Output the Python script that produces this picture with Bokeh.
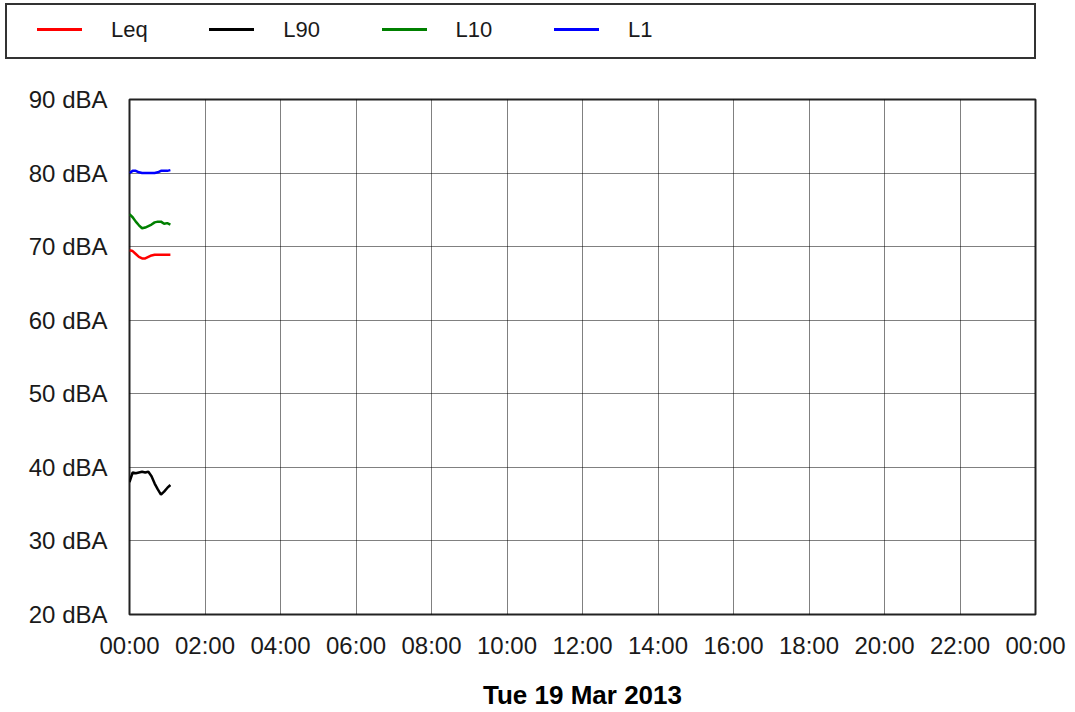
import calendar
from datetime import datetime, timedelta
from bokeh.plotting import figure
from bokeh.layouts import column
from bokeh.models import (FixedTicker, DatetimeTickFormatter, PrintfTickFormatter,
                          Range1d, Div)
from bokeh.embed import file_html
from bokeh.resources import INLINE

# ---- data (5-minute samples from 00:00) ----
minutes = [0, 5, 10, 15, 20, 25, 30, 35, 40, 45, 50, 55, 60, 65]
leq = [69.5, 69.4, 69.0, 68.6, 68.4, 68.4, 68.6, 68.8, 68.9, 68.9, 68.9, 68.9, 68.9, 68.9]
l90 = [38.0, 39.3, 39.2, 39.3, 39.4, 39.3, 39.4, 38.8, 37.8, 37.0, 36.3, 36.7, 37.2, 37.6]
l10 = [74.4, 74.0, 73.4, 72.9, 72.5, 72.6, 72.8, 73.0, 73.3, 73.4, 73.4, 73.1, 73.2, 73.0]
l1 = [80.0, 80.3, 80.3, 80.1, 80.0, 80.0, 80.0, 80.0, 80.0, 80.1, 80.3, 80.3, 80.3, 80.4]
series_names = ["Leq", "L90", "L10", "L1"]
series_colors = ["#ff0000", "#000000", "#008000", "#0000ff"]
y_ticks = [20, 30, 40, 50, 60, 70, 80, 90]
tick_hours = list(range(0, 25, 2))
day = datetime(2013, 3, 19)
x_title = "Tue 19 Mar 2013"

times = [day + timedelta(minutes=m) for m in minutes]
series_values = [leq, l90, l10, l1]

FONT = "Liberation Sans"

# ---- legend box (HTML) ----
parts = []
for i, (name, col) in enumerate(zip(series_names, series_colors)):
    x0 = 30 + i * 172.3
    parts.append(
        f'<span style="position:absolute;left:{x0:.1f}px;top:23px;width:45px;height:3px;'
        f'background:{col};"></span>'
        f'<span style="position:absolute;left:{x0 + 74:.1f}px;top:12px;line-height:26px;'
        f'white-space:nowrap;">{name}</span>')
legend_html = (
    '<div style="position:relative;box-sizing:border-box;width:1031px;height:56px;'
    'margin-left:5px;margin-top:3px;border:2px solid #333;background:#fff;'
    f"font-family:'{FONT}',Arial,sans-serif;font-size:22px;color:#1a1a1a;\">"
    + "".join(parts) + "</div>")
legend_div = Div(text=legend_html, width=1040, height=59, margin=0)

# ---- main chart ----
p = figure(width=1075, height=653, output_backend="svg", toolbar_location=None,
           x_axis_type="datetime",
           x_range=Range1d(day, day + timedelta(hours=24)),
           y_range=Range1d(20, 90),
           min_border_left=129, min_border_right=40, min_border_top=40,
           min_border_bottom=98)

for vals, col in zip(series_values, series_colors):
    p.line(times, vals, line_color=col, line_width=2.5)

tick_ms = [calendar.timegm((day + timedelta(hours=h)).timetuple()) * 1000 for h in tick_hours]
p.xaxis.ticker = FixedTicker(ticks=tick_ms)
fmt = "%H:%M"
p.xaxis.formatter = DatetimeTickFormatter(
    microseconds=fmt, milliseconds=fmt, seconds=fmt, minsec=fmt, minutes=fmt,
    hourmin=fmt, hours=fmt, days=fmt, months=fmt, years=fmt, context=None)
p.yaxis.ticker = FixedTicker(ticks=y_ticks)
p.yaxis.formatter = PrintfTickFormatter(format="%d dBA")

for ax in (p.xaxis, p.yaxis):
    ax.axis_line_color = None
    ax.major_tick_line_color = None
    ax.minor_tick_line_color = None
    ax.major_label_text_font = FONT
    ax.major_label_text_font_size = "24px"
    ax.major_label_text_color = "#1a1a1a"
p.xaxis.major_label_standoff = 11
p.yaxis.major_label_standoff = 16
p.xaxis.axis_label = x_title
p.xaxis.axis_label_text_font = FONT
p.xaxis.axis_label_text_font_style = "bold"
p.xaxis.axis_label_text_font_size = "26px"
p.xaxis.axis_label_text_color = "#000000"
p.xaxis.axis_label_standoff = 18

for g in (p.xgrid, p.ygrid):
    g.grid_line_color = "#000000"
    g.grid_line_dash = "1 1"
    g.grid_line_width = 1
p.outline_line_color = "#222222"
p.outline_line_width = 2

layout = column(legend_div, p, spacing=0)
open("out.html", "w").write(file_html(layout, INLINE))
